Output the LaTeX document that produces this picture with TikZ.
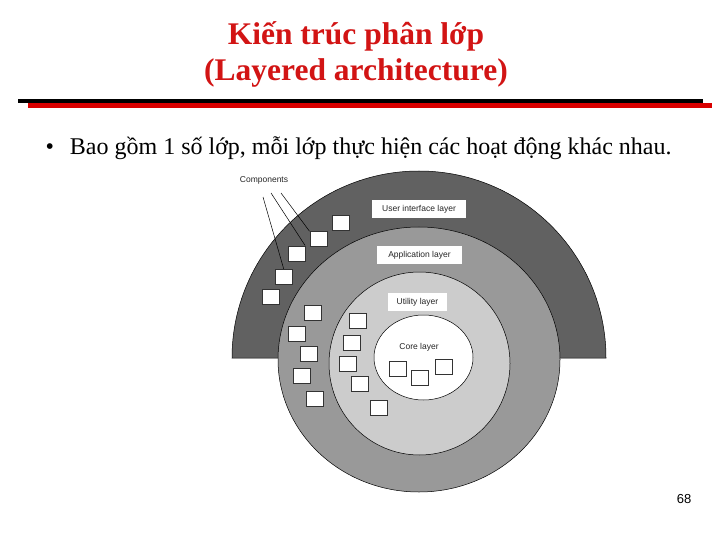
\documentclass[tikz,border=0pt]{standalone}
\usepackage{fontspec}
\setmainfont{Liberation Serif}
\newfontfamily\lsans{Liberation Sans}
\begin{document}
\begin{tikzpicture}[x=1pt,y=-1pt,
  comp/.style={draw=black!80,fill=white,minimum width=17pt,minimum height=15pt,inner sep=0pt,line width=0.6pt},
  lbl/.style={fill=white,font=\lsans\fontsize{8.5}{9}\selectfont,inner sep=2pt,minimum height=18pt,text=black!85},
  ttl/.style={font=\bfseries\fontsize{31.5}{34}\selectfont,text={rgb,255:red,210;green,20;blue,20}}]
\useasboundingbox (0,0) rectangle (720,540);
\fill[white] (0,0) rectangle (720,540);
\node[ttl] (t1) at (356,36) {Kiến trúc phân lớp};
\node[ttl] (t2) at (356,73) {(Layered architecture)};
\fill[black] (18,99) rectangle (703,103);
\fill[red!85!black] (28,103) rectangle (712,108);
\node[anchor=west,font=\fontsize{24}{26}\selectfont] (bul) at (42,148) {\textbullet\hspace{16pt}Bao gồm 1 số lớp, mỗi lớp thực hiện các hoạt động khác nhau.};
% layers
\filldraw[fill=black!62,draw=black,line width=0.5pt] (232,358) arc[start angle=180,end angle=0,radius=187pt] -- cycle;
\filldraw[fill=black!40,draw=black,line width=0.5pt] (419,359.5) ellipse[x radius=141pt,y radius=132.5pt];
\filldraw[fill=black!20,draw=black,line width=0.5pt] (419.5,363.5) ellipse[x radius=90.5pt,y radius=91.5pt];
\filldraw[fill=white,draw=black,line width=0.5pt] (423.5,357.5) ellipse[x radius=49.5pt,y radius=42.5pt];
\node[lbl,minimum width=94pt] (ui) at (419,209) {User interface layer};
\node[lbl,minimum width=85pt] (app) at (419.5,255) {Application layer};
\node[lbl,minimum width=59pt] (util) at (417.5,302) {Utility layer};
\node[font=\lsans\fontsize{8.5}{9}\selectfont,text=black!85] (core) at (419,347) {Core layer};
\node[font=\lsans\fontsize{8.5}{9}\selectfont,text=black!85] (compl) at (264,180) {Components};
% components
\foreach \n/\x/\y in {c1/340.3/223,c2/318.3/239,c3/296.3/253.3,c4/283.7/276.7,c5/270.7/297,
  c6/312.3/312.3,c7/297/334,c8/308.3/353.7,c9/302/376,c10/315/399,
  c11/357.7/320.7,c12/351.7/342.3,c13/347.7/364,c14/360/383.7,c15/379/407.3,
  c16/398/369,c17/419.3/377.3,c18/443.3/367}
  \node[comp] (\n) at (\x,\y) {};
\coordinate (s1) at (263,197);
\coordinate (s2) at (271,193);
\coordinate (s3) at (281,193);
\draw[line width=0.5pt] (s1) -- (c4.north);
\draw[line width=0.5pt] (s2) -- (c3.north east);
\draw[line width=0.5pt] (s3) -- (c2.north west);
\node[font=\lsans\fontsize{13}{15}\selectfont] (pg) at (684,499) {68};
\end{tikzpicture}
\end{document}
